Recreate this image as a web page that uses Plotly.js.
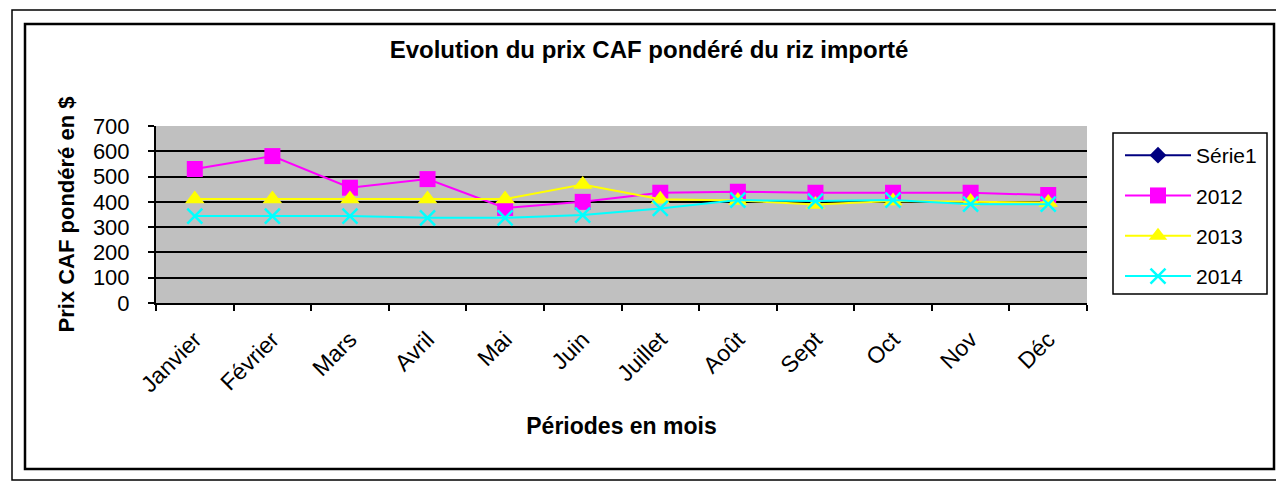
<!DOCTYPE html>
<html>
<head>
<meta charset="utf-8">
<script src="https://cdn.plot.ly/plotly-3.0.1.min.js"></script>
<style>
html,body{margin:0;padding:0;background:#fff;}
#chart{width:1276px;height:483px;}
</style>
</head>
<body>
<div id="chart"></div>
<script>
var months = ["Janvier","Février","Mars","Avril","Mai","Juin","Juillet","Août","Sept","Oct","Nov","Déc"];
var serie1 = [null,null,null,null,null,null,null,null,null,null,null,null];
var v2012 = [530,581,456,490,376,400,436,440,436,436,436,427];
var v2013 = [411,411,411,411,411,469,410,405,390,403,401,397];
var v2014 = [344,344,344,337,337,348,374,407,403,407,391,391];
var yTicks = [0,100,200,300,400,500,600,700];

var W = 1276, H = 483;
var L = 156, R = 1087, T = 126, B = 303;
function px(x){ return (x - L) / (R - L); }
function py(y){ return (B - y) / (B - T); }

var font = "Arial, 'Liberation Sans', sans-serif";

var traces = [
  {x: months, y: serie1, name: "Série1", type: "scatter", mode: "lines+markers",
   line: {color: "#000080", width: 2}, marker: {symbol: "diamond", size: 13, color: "#000080"}, legendgroup: "a"},
  {x: months, y: v2012, name: "2012", type: "scatter", mode: "lines+markers",
   line: {color: "#FF00FF", width: 2}, marker: {symbol: "square", size: 16, color: "#FF00FF"}, legendgroup: "b"},
  {x: months, y: v2013, name: "2013", type: "scatter", mode: "lines+markers",
   line: {color: "#FFFF00", width: 2}, marker: {symbol: "triangle-up", size: 17, color: "#FFFF00"}, legendgroup: "c"},
  {x: months, y: v2014, name: "2014", type: "scatter", mode: "lines+markers",
   line: {color: "#00FFFF", width: 2}, marker: {symbol: "x-thin-open", size: 15, color: "#00FFFF", line: {color: "#00FFFF", width: 2.5}}, legendgroup: "d"}
];

var shapes = [
  {type: "rect", xref: "paper", yref: "paper", x0: px(12), x1: px(1290), y0: py(480), y1: py(10),
   line: {color: "#000", width: 1.5}, fillcolor: "rgba(0,0,0,0)", layer: "below"},
  {type: "rect", xref: "paper", yref: "paper", x0: px(25), x1: px(1274), y0: py(469), y1: py(24),
   line: {color: "#000", width: 2.5}, fillcolor: "rgba(0,0,0,0)", layer: "below"},
  {type: "rect", xref: "paper", yref: "paper", x0: px(1113), x1: px(1267), y0: py(294), y1: py(133),
   line: {color: "#000", width: 1.5}, fillcolor: "rgba(0,0,0,0)"}
];

var layout = {
  width: W, height: H,
  margin: {l: L, r: W - R, t: T, b: H - B, pad: 0},
  paper_bgcolor: "rgba(0,0,0,0)",
  plot_bgcolor: "#C0C0C0",
  font: {family: font, color: "#000"},
  title: {text: "<b>Evolution du prix CAF pondéré du riz importé</b>", font: {size: 24, family: font, color: "#000"},
          x: 649 / W, xref: "container", xanchor: "center", y: 1 - 50 / H, yref: "container", yanchor: "middle"},
  xaxis: {
    type: "category", categoryorder: "array", categoryarray: months,
    tickvals: months, ticktext: months,
    showgrid: false, zeroline: false,
    showline: true, linecolor: "#000", linewidth: 2,
    ticks: "outside", tickson: "boundaries", ticklen: 6, tickwidth: 2, tickcolor: "#000",
    tickangle: -45, tickfont: {size: 23, family: font}, ticklabelstandoff: 12,
    range: [-0.5, 11.5],
    title: {text: "<b>Périodes en mois</b>", font: {size: 23, family: font}, standoff: 22},
    automargin: false
  },
  yaxis: {
    range: [0, 700], tickvals: yTicks, ticktext: yTicks.map(String),
    showgrid: true, gridcolor: "#000", gridwidth: 2, zeroline: false,
    showline: true, linecolor: "#000", linewidth: 2, mirror: false,
    ticks: "outside", ticklen: 6, tickwidth: 2, tickcolor: "#000",
    tickfont: {size: 22, family: font}, ticklabelstandoff: 14,
    title: {text: "<b>Prix CAF pondéré en $</b>", font: {size: 22, family: font}, standoff: 12},
    automargin: false
  },
  showlegend: true,
  legend: {
    x: px(1120), xanchor: "left", y: py(135), yanchor: "top",
    bgcolor: "rgba(0,0,0,0)", borderwidth: 0,
    font: {size: 21, family: font, color: "#000"},
    traceorder: "grouped", tracegroupgap: 10, itemwidth: 66
  },
  shapes: shapes
};

Plotly.newPlot("chart", traces, layout, {displayModeBar: false, staticPlot: true});
</script>
</body>
</html>
